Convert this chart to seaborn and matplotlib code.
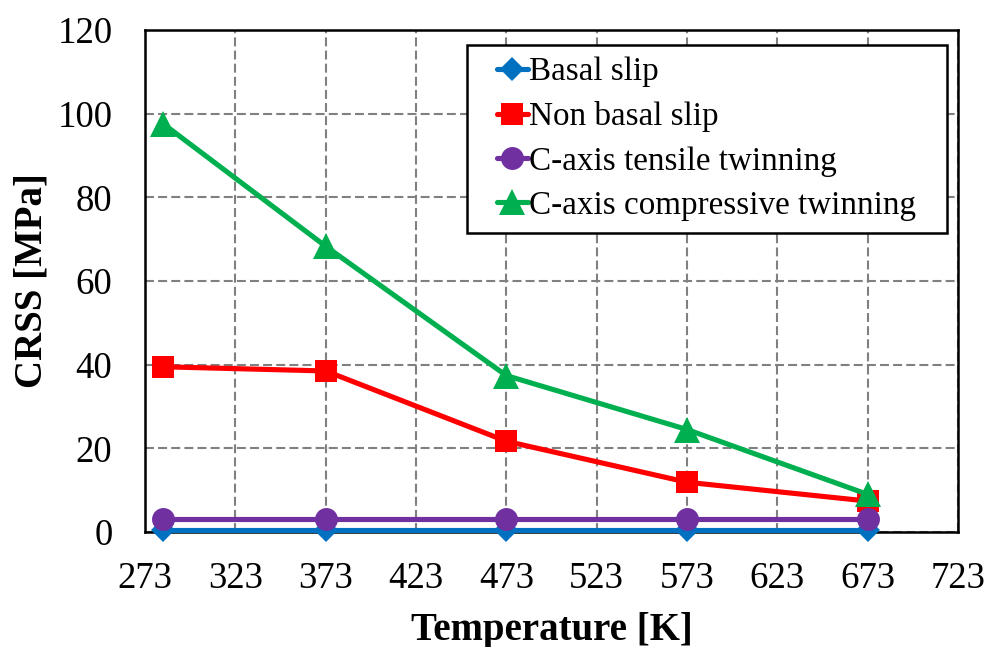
import matplotlib
matplotlib.use("Agg")
import matplotlib.pyplot as plt
from matplotlib.legend_handler import HandlerLine2D
import seaborn as sns
import pandas as pd

# Temperatures [K] and CRSS values [MPa] for each deformation mode
temperature = [283, 373, 473, 573, 673]
basal_slip = [0.6, 0.6, 0.6, 0.6, 0.6]
non_basal_slip = [39.5, 38.5, 21.7, 11.9, 7.4]
tensile_twinning = [3.0, 3.0, 3.0, 3.0, 3.0]
compressive_twinning = [97.6, 68.3, 37.4, 24.5, 9.0]

series_names = ["Basal slip", "Non basal slip",
                "C-axis tensile twinning", "C-axis compressive twinning"]
series_values = [basal_slip, non_basal_slip, tensile_twinning, compressive_twinning]
colors = ["#0070C0", "#FF0000", "#7030A0", "#00B050"]
markers = ["D", "s", "o", "^"]
marker_sizes = [12.5, 16.5, 16.5, 18.5]

x_ticks = [273, 323, 373, 423, 473, 523, 573, 623, 673, 723]
y_ticks = [0, 20, 40, 60, 80, 100, 120]

sns.set_theme(style="white")
plt.rcParams["font.family"] = ["Liberation Serif", "DejaVu Serif"]
plt.rcParams.update({"text.color": "black", "axes.labelcolor": "black",
                     "xtick.color": "black", "ytick.color": "black"})


class OffsetLineHandler(HandlerLine2D):
    """Draws the legend line in the right part of the handle box."""
    def __init__(self, lead=0.54, **kw):
        super().__init__(**kw)
        self.lead = lead

    def create_artists(self, legend, orig_handle, xdescent, ydescent,
                       width, height, fontsize, trans):
        shift = self.lead * fontsize
        return super().create_artists(legend, orig_handle, xdescent - shift,
                                      ydescent, width - shift, height,
                                      fontsize, trans)


fig = plt.figure(figsize=(9.9, 6.47), dpi=100)
ax = fig.add_axes([0.1465, 0.1777, 0.8212, 0.7759])

for name, vals, c, m, ms in zip(series_names, series_values, colors, markers, marker_sizes):
    df = pd.DataFrame({"T": temperature, "CRSS": vals})
    sns.lineplot(data=df, x="T", y="CRSS", ax=ax, color=c, linewidth=3.7,
                 marker=m, markersize=ms, markeredgewidth=0, label=name,
                 clip_on=False, zorder=3)

ax.set_xlim(273, 723)
ax.set_ylim(0, 120)
ax.set_xticks(x_ticks)
ax.set_yticks(y_ticks)
ax.tick_params(axis="both", labelsize=26.5, length=8.5, width=1.5, direction="out")
ax.tick_params(axis="x", pad=13)
ax.tick_params(axis="y", pad=15)
ax.grid(True, color="#808080", linestyle=(0, (4.3, 2.0)), linewidth=1.5, zorder=0)
for sp in ax.spines.values():
    sp.set_visible(True)
    sp.set_color("black")
    sp.set_linewidth(1.8)

ax.set_xlabel("Temperature [K]", fontsize=28, fontweight="bold", labelpad=11)
ax.set_ylabel("CRSS [MPa]", fontsize=28, fontweight="bold", labelpad=5)

handles, labels = ax.get_legend_handles_labels()
leg = ax.legend(handles, labels, loc="upper left",
                bbox_to_anchor=(0.396, 0.0, 0.5905, 0.970), mode="expand",
                fontsize=23.9, frameon=True, fancybox=False,
                edgecolor="black", framealpha=1, handlelength=1.49,
                handletextpad=0.03, labelspacing=0.42, borderpad=0.35,
                borderaxespad=0.0,
                handler_map={h: OffsetLineHandler() for h in handles})
leg.get_frame().set_linewidth(1.8)
for line in leg.get_lines():
    line.set_linewidth(3.7)

fig.savefig("out.png", dpi=100)
